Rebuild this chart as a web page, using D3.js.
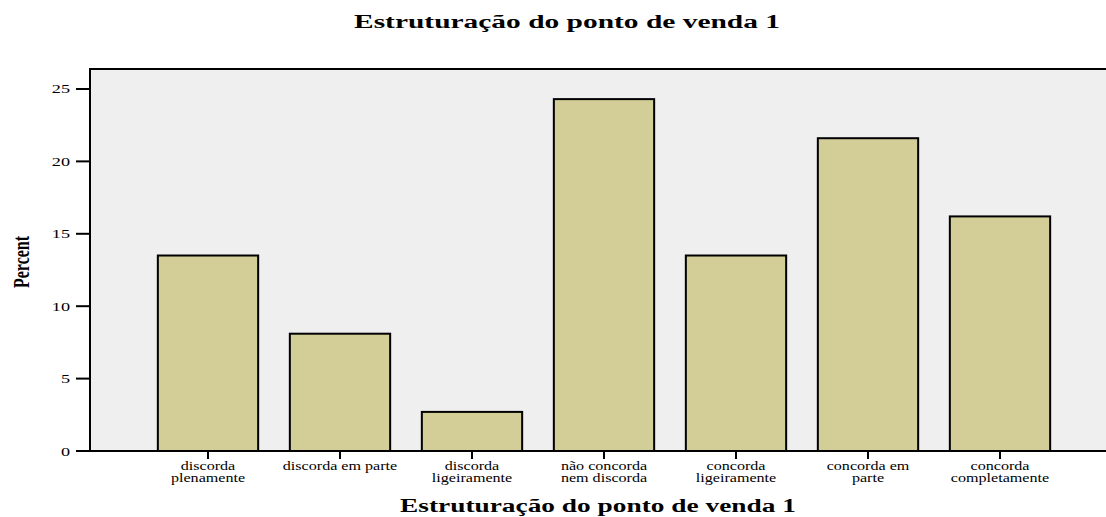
<!DOCTYPE html>
<html>
<head>
<meta charset="utf-8">
<script src="https://cdn.jsdelivr.net/npm/d3@7"></script>
<style>
  body { margin: 0; background: #fff; }
  svg text { font-family: "Liberation Serif", "DejaVu Serif", serif; fill: #000; }
</style>
</head>
<body>
<div id="chart"></div>
<script>
const categories = [
  ['discorda', 'plenamente'],
  ['discorda em parte'],
  ['discorda', 'ligeiramente'],
  ['não concorda', 'nem discorda'],
  ['concorda', 'ligeiramente'],
  ['concorda em', 'parte'],
  ['concorda', 'completamente']
];
const percents = [13.5, 8.1, 2.7, 24.3, 13.5, 21.6, 16.2];
const yTicks = [0, 5, 10, 15, 20, 25];
const chartTitle = 'Estruturação do ponto de venda 1';
const xTitle = 'Estruturação do ponto de venda 1';
const yTitle = 'Percent';

const W = 1106, H = 517;
const plot = { left: 90, top: 69, right: 1110, bottom: 451 };
const stretch = 1.4; // source picture is stretched horizontally

const svg = d3.select('#chart').append('svg')
  .attr('width', W).attr('height', H);

const x = d3.scaleBand()
  .domain(d3.range(categories.length))
  .range([142, 1066])
  .paddingInner(0.24)
  .paddingOuter(0.12);

const y = d3.scaleLinear()
  .domain([0, 26.38])
  .range([plot.bottom, plot.top]);

// plot background
svg.append('rect')
  .attr('x', plot.left).attr('y', plot.top)
  .attr('width', plot.right - plot.left).attr('height', plot.bottom - plot.top)
  .attr('fill', '#efefef')
  .attr('stroke', '#000').attr('stroke-width', 2);

// bars
svg.append('g').selectAll('rect')
  .data(percents)
  .join('rect')
  .attr('x', (d, i) => x(i))
  .attr('y', d => y(d))
  .attr('width', x.bandwidth())
  .attr('height', d => y(0) - y(d))
  .attr('fill', '#d3ce97')
  .attr('stroke', '#000')
  .attr('stroke-width', 2);

// y axis
const yAxis = svg.append('g').attr('transform', `translate(${plot.left},0)`);
yAxis.selectAll('line.tick')
  .data(yTicks).join('line')
  .attr('x1', -14).attr('x2', 0)
  .attr('y1', d => y(d)).attr('y2', d => y(d))
  .attr('stroke', '#000').attr('stroke-width', 2);
yAxis.selectAll('text')
  .data(yTicks).join('text')
  .attr('text-anchor', 'end')
  .attr('font-size', 13)
  .attr('transform', d => `translate(-20,${y(d) + 4.5}) scale(${stretch},1)`)
  .text(d => d);

// x axis line + ticks
svg.append('line')
  .attr('x1', plot.left).attr('x2', plot.right)
  .attr('y1', plot.bottom).attr('y2', plot.bottom)
  .attr('stroke', '#000').attr('stroke-width', 2);
const xAxis = svg.append('g');
xAxis.selectAll('line')
  .data(categories).join('line')
  .attr('x1', (d, i) => x(i) + x.bandwidth() / 2)
  .attr('x2', (d, i) => x(i) + x.bandwidth() / 2)
  .attr('y1', plot.bottom).attr('y2', plot.bottom + 8)
  .attr('stroke', '#000').attr('stroke-width', 2);
xAxis.selectAll('text')
  .data(categories).join('text')
  .attr('text-anchor', 'middle')
  .attr('font-size', 11.5)
  .attr('transform', (d, i) => `translate(${x(i) + x.bandwidth() / 2},470) scale(${stretch},1)`)
  .selectAll('tspan')
  .data(d => d).join('tspan')
  .attr('x', 0)
  .attr('dy', (d, j) => j === 0 ? 0 : 12.5)
  .text(d => d);

// titles
svg.append('text')
  .attr('text-anchor', 'middle')
  .attr('font-size', 19).attr('font-weight', 'bold')
  .attr('transform', `translate(567,28) scale(1.55,1)`)
  .text(chartTitle);

svg.append('text')
  .attr('text-anchor', 'middle')
  .attr('font-size', 19).attr('font-weight', 'bold')
  .attr('transform', `translate(598,512) scale(1.44,1)`)
  .text(xTitle);

svg.append('text')
  .attr('text-anchor', 'middle')
  .attr('font-size', 16).attr('font-weight', 'bold')
  .attr('transform', `translate(29,262) scale(${stretch},1) rotate(-90)`)
  .text(yTitle);
</script>
</body>
</html>
